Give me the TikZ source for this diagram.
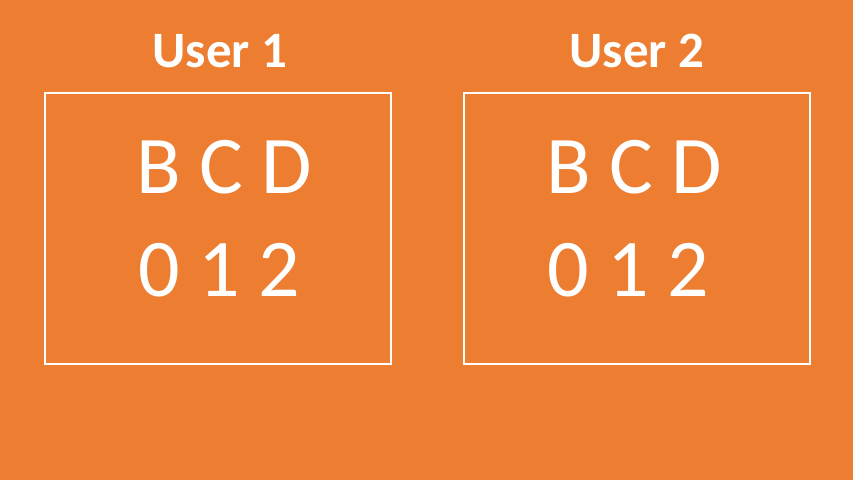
\documentclass[tikz,border=0pt]{standalone}
\usepackage{fontspec}
\setmainfont{Carlito}
\usepackage{tikz}
\usetikzlibrary{backgrounds}
\definecolor{slideorange}{HTML}{ED7D31}

\tikzset{
  userbox/.style={draw=white, line width=2pt, minimum width=346pt, minimum height=271pt, inner sep=0pt},
  usertitle/.style={text=white, font=\fontsize{51}{61}\selectfont\bfseries, anchor=base, inner sep=0pt},
  rowtext/.style={text=white, font=\fontsize{82}{103}\selectfont, anchor=base west, inner sep=0pt}
}

\begin{document}
\begin{tikzpicture}[x=1pt,y=1pt]
\useasboundingbox (0,0) rectangle (853,480);
\fill[slideorange] (0,0) rectangle (853,480);

\node[userbox] (box1) at (218,251.5) {};
\node[usertitle] (title1) at (220,412) {User 1};
\node[rowtext] (letters1) at (136,287) {B C D};
\node[rowtext] (digits1) at (138,184) {0 1 2};

\node[userbox] (box2) at (637,251.5) {};
\node[usertitle] (title2) at (637,412) {User 2};
\node[rowtext] (letters2) at (546,287) {B C D};
\node[rowtext] (digits2) at (547,184) {0 1 2};
\end{tikzpicture}
\end{document}
